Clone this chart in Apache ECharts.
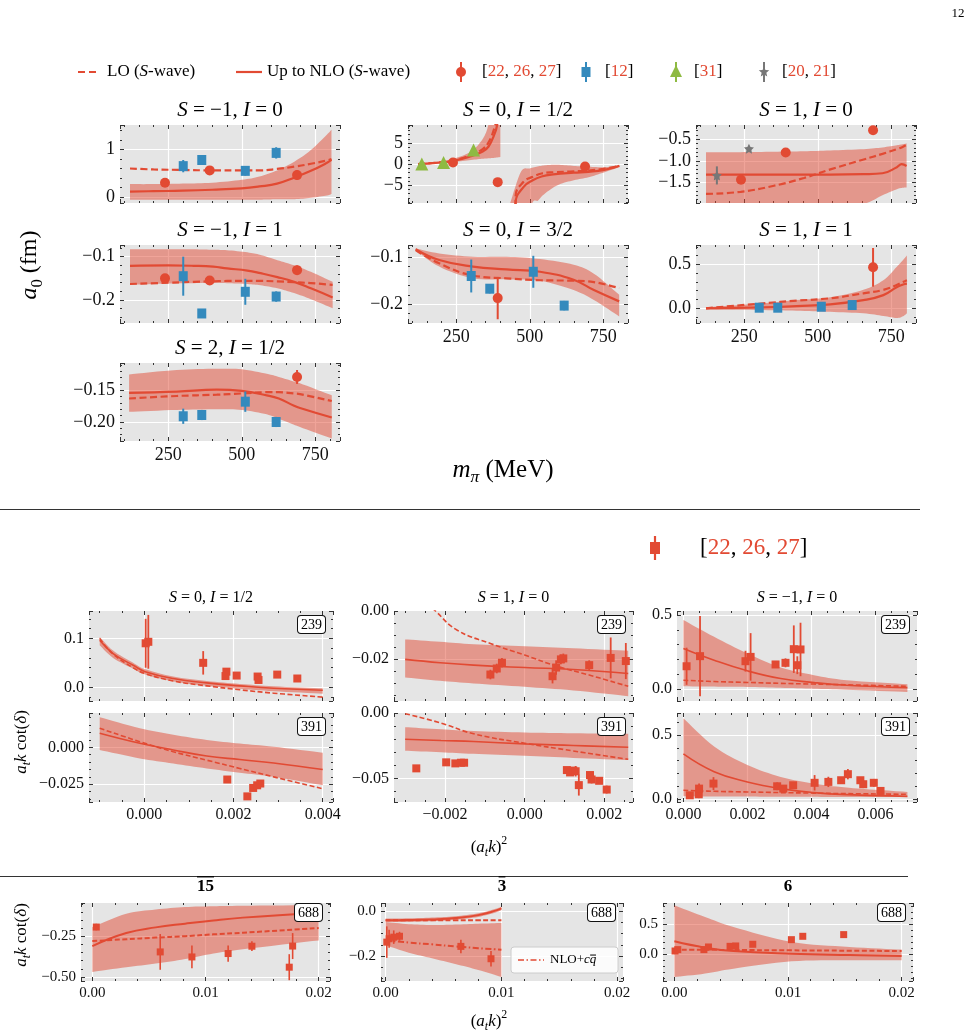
<!DOCTYPE html>
<html>
<head>
<meta charset="utf-8">
<script src="https://cdn.jsdelivr.net/npm/echarts@6/dist/echarts.min.js"></script>
<style>
  html, body { margin: 0; padding: 0; background: #fff; }
  #chart { width: 978px; height: 1035px; }
</style>
</head>
<body>
<div id="chart"></div>
<script>
const SERIF = '"Liberation Serif", "Times New Roman", Times, serif';
const RED = '#E24A33', BLUE = '#348ABD', GREEN = '#8EBA42', GRAY = '#777777';
const BAND = 'rgba(226, 74, 51, 0.5)';

// ---------- top figure: a0 (fm) vs m_pi (MeV) ----------
const mRed = [239, 391, 688];
const mBlue = [301, 364, 512, 617];
const mGreen = [133, 207, 309];
const mGray = [157, 266];
const m391 = [391];
const m688 = [688];

// S=-1, I=0
const mA = [120, 200, 300, 400, 500, 560, 620, 680, 735, 790, 805];
const aNLO = [0.11, 0.12, 0.13, 0.15, 0.18, 0.22, 0.28, 0.41, 0.55, 0.72, 0.78];
const aLO = [0.60, 0.58, 0.57, 0.56, 0.56, 0.56, 0.59, 0.64, 0.70, 0.77, 0.80];
const aBandLo = [-0.06, -0.06, -0.06, -0.06, -0.06, -0.06, -0.05, -0.05, -0.02, 0.03, 0.06];
const aBandHi = [0.27, 0.27, 0.28, 0.30, 0.36, 0.43, 0.56, 0.75, 0.99, 1.32, 1.42];
const aRedY = [0.30, 0.56, 0.46], aRedErr = [0.03, 0.03, 0.10];
const aBlueY = [0.65, 0.78, 0.55, 0.93], aBlueErr = [0.13, 0.07, 0.10, 0.12];

// S=0, I=1/2 (two branches around the pole)
const bmL = [120, 180, 241, 300, 340, 360, 378, 389, 398];
const bNLOL = [0.0, 0.3, 0.8, 1.9, 3.0, 4.2, 6.8, 9.3, 16];
const bLOL = [0.05, 0.35, 0.95, 2.2, 3.6, 5.2, 8.2, 11.5, 20];
const bmBL = [120, 180, 241, 300, 340, 360, 378, 389, 400];
const bBandLoL = [-0.1, 0.1, 0.55, 1.0, 1.3, 1.4, 1.5, 1.6, 1.7];
const bBandHiL = [0.2, 0.55, 1.3, 3.0, 6.0, 9.5, 16, 25, 30];
const bmR = [446, 452, 480, 510, 540, 580, 650, 700, 750, 805];
const bNLOR = [-40, -9.1, -5.3, -3.8, -2.9, -2.4, -2.0, -1.8, -1.4, -0.4];
const bLOR = [-40, -7.5, -4.1, -3.0, -2.2, -1.9, -1.7, -1.5, -1.1, -0.4];
const bmBR = [434, 470, 500, 530, 560, 600, 650, 700, 750, 800];
const bBandLoR = [-40, -40, -12, -8.5, -6.5, -4.8, -3.8, -3.1, -2.0, -0.8];
const bBandHiR = [-9.1, -1.8, -1.0, -0.5, -0.2, -0.15, -0.4, -0.6, -0.7, -0.4];
const bGreenY = [0.07, 0.4, 3.4], bGreenErr = [0.25, 0.25, 0.5];
const bRedY = [0.4, -4.25, -0.55], bRedErr = [0.3, 0.4, 0.4];

// S=1, I=0
const cm = [120, 238, 351, 453, 543, 656, 720, 769, 785, 802];
const cNLO = [-1.32, -1.32, -1.32, -1.32, -1.32, -1.31, -1.29, -1.15, -1.08, -1.12];
const cLO = [-1.77, -1.72, -1.58, -1.40, -1.20, -0.97, -0.84, -0.73, -0.69, -0.63];
const cBandLo = [-2.1, -2.1, -2.1, -2.1, -2.1, -2.0, -1.8, -1.66, -1.63, -1.62];
const cBandHi = [-0.80, -0.80, -0.79, -0.78, -0.76, -0.73, -0.69, -0.64, -0.62, -0.60];
const cRedY = [-1.44, -0.81, -0.29], cRedErr = [0.03, 0.03, 0.03];
const cGrayY = [-1.34, -0.72], cGrayErr = [0.21, 0.02];

// S=-1, I=1
const dm = [120, 250, 337, 403, 450, 519, 564, 621, 678, 735, 809];
const dNLO = [-0.121, -0.120, -0.121, -0.123, -0.127, -0.132, -0.138, -0.147, -0.158, -0.173, -0.194];
const dLO = [-0.163, -0.160, -0.158, -0.157, -0.156, -0.156, -0.156, -0.157, -0.159, -0.161, -0.165];
const dBandHi = [-0.083, -0.083, -0.083, -0.084, -0.085, -0.090, -0.096, -0.108, -0.120, -0.135, -0.158];
const dBandLo = [-0.165, -0.162, -0.161, -0.160, -0.161, -0.163, -0.166, -0.173, -0.184, -0.198, -0.219];
const dRedY = [-0.150, -0.155, -0.131], dRedErr = [0.004, 0.004, 0.011];
const dBlueY = [-0.145, -0.231, -0.181, -0.192], dBlueErr = [0.045, 0.010, 0.030, 0.012];

// S=0, I=3/2
const em = [112, 192, 307, 421, 535, 649, 718, 804];
const eNLO = [-0.083, -0.106, -0.120, -0.126, -0.131, -0.148, -0.170, -0.194];
const eLO = [-0.085, -0.113, -0.139, -0.145, -0.149, -0.150, -0.153, -0.166];
const eBandHi = [-0.081, -0.092, -0.099, -0.099, -0.104, -0.116, -0.135, -0.180];
const eBandLo = [-0.085, -0.120, -0.145, -0.147, -0.150, -0.170, -0.191, -0.226];
const eRedY = [-0.187], eRedErr = [0.045];
const eBlueY = [-0.140, -0.167, -0.131, -0.203], eBlueErr = [0.035, 0.010, 0.034, 0.010];

// S=1, I=1
const fm = [120, 315, 428, 542, 655, 723, 768, 790, 803];
const fNLO = [0.0, 0.01, 0.026, 0.045, 0.093, 0.15, 0.24, 0.27, 0.28];
const fLO = [0.0, 0.057, 0.087, 0.114, 0.17, 0.21, 0.265, 0.30, 0.32];
const fBandHi = [0.011, 0.057, 0.095, 0.125, 0.21, 0.32, 0.47, 0.55, 0.60];
const fBandLo = [-0.011, -0.02, -0.027, -0.04, -0.057, -0.087, -0.11, -0.09, -0.057];
const fRedY = [0.466], fRedErr = [0.22];
const fBlueY = [0.007, 0.007, 0.018, 0.037], fBlueErr = [0.01, 0.01, 0.01, 0.01];

// S=2, I=1/2
const gm = [117, 279, 415, 500, 585, 626, 676, 698, 806];
const gNLO = [-0.154, -0.152, -0.149, -0.151, -0.158, -0.163, -0.174, -0.178, -0.193];
const gLO = [-0.163, -0.159, -0.157, -0.155, -0.153, -0.153, -0.155, -0.156, -0.167];
const gBandHi = [-0.125, -0.118, -0.116, -0.117, -0.124, -0.129, -0.136, -0.139, -0.158];
const gBandLo = [-0.184, -0.181, -0.180, -0.181, -0.188, -0.195, -0.204, -0.208, -0.226];
const gRedY = [-0.129], gRedErr = [0.011];
const gBlueY = [-0.191, -0.189, -0.168, -0.200], gBlueErr = [0.012, 0.008, 0.016, 0.008];

// ---------- middle figure: a_t k cot(delta) vs (a_t k)^2 ----------
// S=0, I=1/2, m=239
const m1X = [0.00003, 0.00009, 0.00132, 0.00182, 0.00184, 0.00207, 0.00254, 0.00256, 0.00298, 0.00343];
const m1Y = [0.090, 0.093, 0.050, 0.023, 0.032, 0.024, 0.022, 0.015, 0.026, 0.018];
const m1Err = [0.050, 0.055, 0.024, 0.006, 0.006, 0.005, 0.006, 0.006, 0.005, 0.004];
const m1cx = [-0.001, -0.0007, -0.00025, 0.00002, 0.00065, 0.0014, 0.00214, 0.0029, 0.004];
const m1NLO = [0.096, 0.069, 0.045, 0.032, 0.018, 0.009, 0.003, -0.002, -0.006];
const m1LO = [0.100, 0.068, 0.040, 0.028, 0.013, 0.003, -0.005, -0.012, -0.020];
const m1BandHi = [0.103, 0.075, 0.050, 0.037, 0.022, 0.013, 0.007, 0.002, -0.002];
const m1BandLo = [0.086, 0.060, 0.038, 0.026, 0.012, 0.003, -0.003, -0.008, -0.013];
// S=0, I=1/2, m=391
const m4X = [0.00186, 0.00231, 0.00244, 0.00253, 0.0026];
const m4Y = [-0.0218, -0.0332, -0.0275, -0.0257, -0.0245];
const m4Err = [0.0015, 0.0015, 0.0015, 0.0015, 0.0012];
const m4cx = [-0.001, -0.0001, 0.00065, 0.0014, 0.00214, 0.0029, 0.004];
const m4NLO = [0.0095, 0.0027, -0.0018, -0.0059, -0.0083, -0.0106, -0.015];
const m4LO = [0.0129, 0.0038, -0.0030, -0.0087, -0.0143, -0.0200, -0.0280];
const m4BandHi = [0.0204, 0.0129, 0.0085, 0.0050, 0.0025, 0.0004, -0.0037];
const m4BandLo = [-0.0018, -0.0075, -0.0110, -0.0143, -0.0172, -0.0200, -0.0257];
// S=1, I=0, m=239
const m2X = [-0.00086, -0.0007, -0.00057, 0.0007, 0.00079, 0.00091, 0.00097, 0.00162, 0.00216, 0.00254];
const m2Y = [-0.0264, -0.0239, -0.0215, -0.0271, -0.0235, -0.0201, -0.0197, -0.0225, -0.0195, -0.0208];
const m2Err = [0.002, 0.002, 0.002, 0.003, 0.003, 0.002, 0.002, 0.002, 0.0085, 0.0075];
const m2cx = [-0.003, -0.00212, -0.00128, 0, 0.00122, 0.0026];
const m2NLO = [-0.0201, -0.0215, -0.0225, -0.0235, -0.0243, -0.0260];
const m2BandHi = [-0.0118, -0.0128, -0.0138, -0.0146, -0.0155, -0.0165];
const m2BandLo = [-0.0276, -0.0290, -0.0301, -0.0315, -0.0330, -0.0354];
const m2lx = [-0.003, -0.00224, -0.0017, -0.00086, 0, 0.0008, 0.00164, 0.0026];
const m2LO = [0.012, 0.0, -0.0079, -0.0135, -0.0183, -0.0229, -0.0267, -0.0313];
// S=1, I=0, m=391
const m5X = [-0.00272, -0.00197, -0.00174, -0.0016, -0.00152, 0.00106, 0.00114, 0.00122, 0.00128, 0.00136, 0.00164, 0.00168, 0.00187, 0.00206];
const m5Y = [-0.0423, -0.0377, -0.0385, -0.0380, -0.0380, -0.0436, -0.0454, -0.0440, -0.0445, -0.0551, -0.0474, -0.0508, -0.0518, -0.0585];
const m5Err = [0.0015, 0.0015, 0.0015, 0.0015, 0.0015, 0.002, 0.002, 0.0025, 0.004, 0.008, 0.002, 0.003, 0.002, 0.003];
const m5cx = [-0.003, -0.0021, -0.00128, 0, 0.00122, 0.0026];
const m5NLO = [-0.0200, -0.0210, -0.0218, -0.0236, -0.0248, -0.0262];
const m5LO = [-0.0005, -0.0077, -0.0159, -0.0231, -0.0290, -0.0354];
const m5BandHi = [-0.0108, -0.0125, -0.0138, -0.0149, -0.0155, -0.0159];
const m5BandLo = [-0.0288, -0.0300, -0.0312, -0.0326, -0.0343, -0.0360];
// S=-1, I=0, m=239 and m=391
const m3cx = [0, 0.00096, 0.002, 0.00304, 0.00408, 0.0051, 0.007];
const m3X = [0.0001, 0.00052, 0.00194, 0.0021, 0.00288, 0.00319, 0.00345, 0.00356, 0.00366];
const m3Y = [0.155, 0.223, 0.189, 0.218, 0.167, 0.178, 0.270, 0.162, 0.268];
const m3Err = [0.125, 0.27, 0.07, 0.16, 0.02, 0.03, 0.16, 0.06, 0.18];
const m3NLO = [0.275, 0.196, 0.124, 0.072, 0.045, 0.027, 0.011];
const m3LO = [0.061, 0.052, 0.046, 0.040, 0.035, 0.030, 0.020];
const m3BandHi = [0.466, 0.353, 0.241, 0.147, 0.095, 0.061, 0.034];
const m3BandLo = [0.020, 0.018, 0.016, 0.010, 0.004, -0.003, -0.018];
const m6X = [0.0002, 0.00048, 0.00049, 0.00094, 0.00293, 0.00312, 0.00343, 0.0041, 0.00453, 0.00493, 0.00514, 0.00553, 0.00562, 0.00595, 0.00616];
const m6Y = [0.031, 0.039, 0.083, 0.122, 0.101, 0.083, 0.109, 0.128, 0.135, 0.148, 0.195, 0.148, 0.117, 0.128, 0.065];
const m6Err = [0.02, 0.03, 0.04, 0.05, 0.03, 0.02, 0.02, 0.06, 0.04, 0.02, 0.04, 0.02, 0.03, 0.03, 0.03];
const m6NLO = [0.352, 0.214, 0.135, 0.083, 0.052, 0.036, 0.023];
const m6LO = [0.070, 0.062, 0.057, 0.052, 0.048, 0.044, 0.039];
const m6BandHi = [0.63, 0.41, 0.266, 0.174, 0.122, 0.091, 0.057];
const m6BandLo = [0.023, 0.022, 0.021, 0.020, 0.019, 0.018, 0.018];

// ---------- bottom figure: irreps at m=688 ----------
const b1X = [0.00035, 0.006, 0.0088, 0.012, 0.0141, 0.0174, 0.0177];
const b1Y = [-0.193, -0.346, -0.377, -0.356, -0.311, -0.44, -0.31];
const b1Err = [0.02, 0.11, 0.07, 0.05, 0.03, 0.08, 0.08];
const b1cx = [0, 0.003, 0.0056, 0.0082, 0.0107, 0.0133, 0.02];
const b1NLO = [-0.31, -0.23, -0.195, -0.172, -0.152, -0.135, -0.105];
const b1LO = [-0.279, -0.268, -0.258, -0.249, -0.238, -0.228, -0.199];
const b1BandHi = [-0.193, -0.111, -0.085, -0.07, -0.065, -0.062, -0.058];
const b1BandLo = [-0.469, -0.44, -0.418, -0.39, -0.356, -0.33, -0.275];

const b2X = [0.0001, 0.0003, 0.0007, 0.0012, 0.0065, 0.0091];
const b2Y = [-0.138, -0.123, -0.116, -0.112, -0.157, -0.212];
const b2Err = [0.07, 0.04, 0.03, 0.02, 0.03, 0.035];
const b2cx = [0, 0.002, 0.004, 0.006, 0.008, 0.0095, 0.01];
const b2NLO = [-0.041, -0.040, -0.037, -0.031, -0.018, 0.002, 0.012];
const b2LO = [-0.041, -0.041, -0.041, -0.041, -0.041, -0.041, -0.041];
const b2ThinHi = [-0.033, -0.032, -0.029, -0.023, -0.010, 0.010, 0.020];
const b2ThinLo = [-0.049, -0.048, -0.045, -0.039, -0.026, -0.006, 0.004];
const b2qx = [0, 0.002, 0.004, 0.006, 0.008, 0.01];
const b2CQ = [-0.130, -0.140, -0.148, -0.157, -0.165, -0.172];
const b2BandHi = [-0.049, -0.058, -0.062, -0.060, -0.056, -0.053];
const b2BandLo = [-0.152, -0.185, -0.210, -0.235, -0.262, -0.293];

const b3X = [0.00006, 0.0003, 0.0026, 0.003, 0.0049, 0.0054, 0.0069, 0.0103, 0.0113, 0.0149];
const b3Y = [0.055, 0.078, 0.078, 0.122, 0.133, 0.139, 0.167, 0.244, 0.30, 0.328];
const b3Err = [0.03, 0.03, 0.03, 0.04, 0.03, 0.03, 0.03, 0.03, 0.03, 0.03];
const b3cx = [0, 0.0027, 0.0052, 0.0103, 0.0154, 0.02];
const b3NLO = [0.217, 0.111, 0.055, 0.011, -0.012, -0.028];
const b3LO = [0.078, 0.075, 0.072, 0.066, 0.060, 0.055];
const b3BandHi = [0.817, 0.622, 0.456, 0.206, 0.122, 0.078];
const b3BandLo = [-0.378, -0.322, -0.239, -0.117, -0.10, -0.10];

// ---------- markers ----------
const STAR = 'path://M0,-10L2.94,-4.05L9.51,-3.09L4.76,1.55L5.88,8.09L0,5L-5.88,8.09L-4.76,1.55L-9.51,-3.09L-2.94,-4.05Z';
const MARK = {
  circle: { symbol: 'circle', size: 10, color: RED, ew: 2 },
  square: { symbol: 'rect', size: [9, 10], color: BLUE, ew: 2 },
  triangle: { symbol: 'triangle', size: 13, color: GREEN, ew: 2 },
  star: { symbol: STAR, size: 10, color: GRAY, ew: 2 },
  redsq: { symbol: 'rect', size: 8, color: RED, ew: 1.8 },
  redsq2: { symbol: 'rect', size: 7, color: RED, ew: 1.6 }
};

// ---------- panels ----------
const TOPX = [86, 834, 250, 5, 0];
const panels = [
  { box: [120, 125, 220, 78], xr: TOPX, yr: [-0.13, 1.52, 1, 5, 0], xLabels: false, font: 18, lw: 2.2, dash: [7, 3.5],
    title: ['−1', '0'], tfont: 21,
    bands: [[mA, aBandLo, aBandHi]], nlo: [[mA, aNLO]], lo: [[mA, aLO]],
    pts: [[mRed, aRedY, aRedErr, 'circle'], [mBlue, aBlueY, aBlueErr, 'square']] },
  { box: [408, 125, 220, 78], xr: TOPX, yr: [-9.2, 9.3, 5, 5, 0], xLabels: false, font: 18, lw: 2.2, dash: [7, 3.5],
    title: ['0', '1/2'], tfont: 21,
    bands: [[bmBL, bBandLoL, bBandHiL], [bmBR, bBandLoR, bBandHiR]],
    nlo: [[bmL, bNLOL], [bmR, bNLOR]], lo: [[bmL, bLOL], [bmR, bLOR]],
    pts: [[mGreen, bGreenY, bGreenErr, 'triangle'], [mRed, bRedY, bRedErr, 'circle']] },
  { box: [696, 125, 220, 78], xr: TOPX, yr: [-1.98, -0.17, 0.5, 5, 1], xLabels: false, font: 18, lw: 2.2, dash: [7, 3.5],
    title: ['1', '0'], tfont: 21,
    bands: [[cm, cBandLo, cBandHi]], nlo: [[cm, cNLO]], lo: [[cm, cLO]],
    pts: [[mGray, cGrayY, cGrayErr, 'star'], [mRed, cRedY, cRedErr, 'circle']] },
  { box: [120, 245, 220, 78], xr: TOPX, yr: [-0.253, -0.073, 0.1, 5, 1], xLabels: false, font: 18, lw: 2.2, dash: [7, 3.5],
    title: ['−1', '1'], tfont: 21,
    bands: [[dm, dBandLo, dBandHi]], nlo: [[dm, dNLO]], lo: [[dm, dLO]],
    pts: [[mRed, dRedY, dRedErr, 'circle'], [mBlue, dBlueY, dBlueErr, 'square']] },
  { box: [408, 245, 220, 78], xr: TOPX, yr: [-0.24, -0.074, 0.1, 5, 1], xLabels: true, font: 18, lw: 2.2, dash: [7, 3.5],
    title: ['0', '3/2'], tfont: 21,
    bands: [[em, eBandLo, eBandHi]], nlo: [[em, eNLO]], lo: [[em, eLO]],
    pts: [[mBlue, eBlueY, eBlueErr, 'square'], [m391, eRedY, eRedErr, 'circle']] },
  { box: [696, 245, 220, 78], xr: TOPX, yr: [-0.167, 0.72, 0.5, 5, 1], xLabels: true, font: 18, lw: 2.2, dash: [7, 3.5],
    title: ['1', '1'], tfont: 21,
    bands: [[fm, fBandLo, fBandHi]], nlo: [[fm, fNLO]], lo: [[fm, fLO]],
    pts: [[mBlue, fBlueY, fBlueErr, 'square'], [m688, fRedY, fRedErr, 'circle']] },
  { box: [120, 363, 220, 78], xr: TOPX, yr: [-0.230, -0.107, 0.05, 5, 2], xLabels: true, font: 18, lw: 2.2, dash: [7, 3.5],
    title: ['2', '1/2'], tfont: 21,
    bands: [[gm, gBandLo, gBandHi]], nlo: [[gm, gNLO]], lo: [[gm, gLO]],
    pts: [[mBlue, gBlueY, gBlueErr, 'square'], [m688, gRedY, gRedErr, 'circle']] },

  // middle
  { box: [89, 611, 244, 90], xr: [-0.00124, 0.00423, 0.002, 4, 3], yr: [-0.028, 0.156, 0.1, 5, 1], xLabels: false, font: 16, lw: 1.6, dash: [5, 2.5],
    title: ['0', '1/2'], tfont: 16, tag: '239',
    bands: [[m1cx, m1BandLo, m1BandHi]], nlo: [[m1cx, m1NLO]], lo: [[m1cx, m1LO]], pts: [[m1X, m1Y, m1Err, 'redsq']] },
  { box: [394, 611, 239, 90], xr: [-0.00328, 0.00272, 0.002, 4, 3], yr: [-0.0374, 0, 0.02, 4, 2], xLabels: false, font: 16, lw: 1.6, dash: [5, 2.5],
    title: ['1', '0'], tfont: 16, tag: '239',
    bands: [[m2cx, m2BandLo, m2BandHi]], nlo: [[m2cx, m2NLO]], lo: [[m2lx, m2LO]], pts: [[m2X, m2Y, m2Err, 'redsq']] },
  { box: [677, 611, 240, 90], xr: [-0.0002, 0.0073, 0.002, 4, 3], yr: [-0.079, 0.527, 0.5, 5, 1], xLabels: false, font: 16, lw: 1.6, dash: [5, 2.5],
    title: ['−1', '0'], tfont: 16, tag: '239',
    bands: [[m3cx, m3BandLo, m3BandHi]], nlo: [[m3cx, m3NLO]], lo: [[m3cx, m3LO]], pts: [[m3X, m3Y, m3Err, 'redsq']] },
  { box: [89, 713, 244, 89], xr: [-0.00124, 0.00423, 0.002, 4, 3], yr: [-0.037, 0.0232, 0.025, 5, 3], xLabels: true, font: 16, lw: 1.6, dash: [5, 2.5],
    tag: '391',
    bands: [[m4cx, m4BandLo, m4BandHi]], nlo: [[m4cx, m4NLO]], lo: [[m4cx, m4LO]], pts: [[m4X, m4Y, m4Err, 'redsq']] },
  { box: [394, 713, 239, 89], xr: [-0.00328, 0.00272, 0.002, 4, 3], yr: [-0.068, 0, 0.05, 5, 2], xLabels: true, font: 16, lw: 1.6, dash: [5, 2.5],
    tag: '391',
    bands: [[m5cx, m5BandLo, m5BandHi]], nlo: [[m5cx, m5NLO]], lo: [[m5cx, m5LO]], pts: [[m5X, m5Y, m5Err, 'redsq']] },
  { box: [677, 713, 240, 89], xr: [-0.0002, 0.0073, 0.002, 4, 3], yr: [-0.021, 0.67, 0.5, 5, 1], xLabels: true, font: 16, lw: 1.6, dash: [5, 2.5],
    tag: '391',
    bands: [[m3cx, m6BandLo, m6BandHi]], nlo: [[m3cx, m6NLO]], lo: [[m3cx, m6LO]], pts: [[m6X, m6Y, m6Err, 'redsq']] },

  // bottom
  { box: [81, 903, 249, 78], xr: [-0.001, 0.021, 0.01, 5, 2], yr: [-0.525, -0.045, 0.25, 5, 2], xLabels: true, font: 15, lw: 2, dash: [5, 2.5],
    tag: '688', tagDy: 1,
    bands: [[b1cx, b1BandLo, b1BandHi]], nlo: [[b1cx, b1NLO]], lo: [[b1cx, b1LO]], pts: [[b1X, b1Y, b1Err, 'redsq2']] },
  { box: [381, 903, 242, 78], xr: [-0.0004, 0.0205, 0.01, 5, 2], yr: [-0.311, 0.036, 0.2, 4, 1], xLabels: true, font: 15, lw: 2, dash: [5, 2.5],
    tag: '688', tagDy: 1,
    bands: [[b2qx, b2BandLo, b2BandHi], [b2cx, b2ThinLo, b2ThinHi]], nlo: [[b2cx, b2NLO]], lo: [[b2cx, b2LO]], cq: [[b2qx, b2CQ]],
    pts: [[b2X, b2Y, b2Err, 'redsq2']] },
  { box: [663, 903, 250, 78], xr: [-0.001, 0.021, 0.01, 5, 2], yr: [-0.445, 0.855, 0.5, 5, 1], xLabels: true, font: 15, lw: 2, dash: [5, 2.5],
    tag: '688', tagDy: 1,
    bands: [[b3cx, b3BandLo, b3BandHi]], nlo: [[b3cx, b3NLO]], lo: [[b3cx, b3LO]], pts: [[b3X, b3Y, b3Err, 'redsq2']] }
];

// ---------- helpers ----------
const fmtTick = (v, dec) => {
  if (Math.abs(v) < 1e-12) v = 0;
  return v.toFixed(dec).replace('-', '\u2212');
};

function makeAxis(gridIndex, r, position, labels, font) {
  const [min, max, step, minor, dec] = r;
  const main = position === 'bottom' || position === 'left';
  const onTick = v => Math.abs(v / step - Math.round(v / step)) < 1e-6;
  return {
    type: 'value', gridIndex, position, min, max, minInterval: step, maxInterval: step,
    axisLine: { show: false, onZero: false },
    axisTick: { show: true, inside: true, length: 4, lineStyle: { color: '#333', width: 1 } },
    minorTick: { show: true, splitNumber: minor, length: 2, lineStyle: { color: '#333', width: 1 } },
    splitLine: { show: main, showMinLine: false, showMaxLine: false, lineStyle: { color: '#ffffff', width: 1.2 } },
    minorSplitLine: { show: false },
    axisLabel: {
      show: labels, showMinLabel: onTick(min), showMaxLabel: onTick(max), margin: 5,
      color: '#111', fontFamily: SERIF, fontSize: font, formatter: v => fmtTick(v, dec)
    }
  };
}

function spline(pts, steps = 8) {
  if (pts.length < 3) return pts;
  const out = [];
  for (let i = 0; i < pts.length - 1; i++) {
    const p0 = pts[Math.max(i - 1, 0)], p1 = pts[i], p2 = pts[i + 1], p3 = pts[Math.min(i + 2, pts.length - 1)];
    for (let s = 0; s < steps; s++) {
      const t = s / steps, t2 = t * t, t3 = t2 * t;
      out.push([0, 1].map(k => 0.5 * (2 * p1[k] + (p2[k] - p0[k]) * t +
        (2 * p0[k] - 5 * p1[k] + 4 * p2[k] - p3[k]) * t2 + (3 * p1[k] - p0[k] - 3 * p2[k] + p3[k]) * t3)));
    }
  }
  out.push(pts[pts.length - 1]);
  return out;
}

function bandSeries(ax, xs, lo, hi) {
  return Object.assign({
    type: 'custom', clip: true, silent: true, z: 1,
    data: [[xs[0], lo[0]]],
    renderItem: (params, api) => {
      const top = spline(xs.map((x, k) => api.coord([x, hi[k]])));
      const bot = spline(xs.map((x, k) => api.coord([x, lo[k]]))).reverse();
      return { type: 'polygon', shape: { points: top.concat(bot) }, style: { fill: BAND } };
    }
  }, ax);
}

function lineSeries(ax, xs, ys, width, type) {
  return Object.assign({
    type: 'line', silent: true, z: 3, symbol: 'none', showSymbol: false, smooth: 0.45,
    data: xs.map((x, k) => [x, ys[k]]),
    lineStyle: { color: RED, width, type }
  }, ax);
}

function errSeries(ax, xs, ys, err, color, width) {
  return Object.assign({
    type: 'custom', clip: true, silent: true, z: 4,
    data: xs.map((x, k) => [x, ys[k], err[k]]),
    renderItem: (params, api) => {
      const a = api.coord([api.value(0), api.value(1) - api.value(2)]);
      const b = api.coord([api.value(0), api.value(1) + api.value(2)]);
      return { type: 'line', shape: { x1: a[0], y1: a[1], x2: b[0], y2: b[1] }, style: { stroke: color, lineWidth: width } };
    }
  }, ax);
}

function markSeries(ax, xs, ys, m) {
  return Object.assign({
    type: 'scatter', silent: true, z: 5, symbol: m.symbol, symbolSize: m.size,
    data: xs.map((x, k) => [x, ys[k]]),
    itemStyle: { color: m.color, opacity: 1 }
  }, ax);
}

const meter = document.createElement('canvas').getContext('2d');
function mtext(tokens, x, y, size, opt = {}) {
  let w = 0;
  const kids = [], overs = [];
  const z = opt.z || 110;
  tokens.forEach(tok => {
    const t = typeof tok === 'string' ? { t: tok } : tok;
    const fs = size * (t.s || 1);
    const fontStyle = t.i ? 'italic' : 'normal', fontWeight = t.b ? 'bold' : 'normal';
    meter.font = `${fontStyle} ${fontWeight} ${fs}px ${SERIF}`;
    const tw = meter.measureText(t.t).width;
    kids.push({ type: 'text', z, x: w, y: (t.dy || 0) * size,
      style: { text: t.t, fontSize: fs, fontFamily: SERIF, fontStyle, fontWeight, fill: t.c || '#000', align: 'left', verticalAlign: 'middle' } });
    if (t.over) overs.push([w, tw, t.over, t.oy || 0.6]);
    w += tw;
  });
  const shift = opt.align === 'left' ? 0 : -w / 2;
  kids.forEach(k => { k.x += shift; });
  overs.forEach(([x0, tw, f, oy]) => kids.push({ type: 'line', z,
    shape: { x1: x0 + shift + tw * (1 - f) / 2, y1: -oy * size, x2: x0 + shift + tw * (1 + f) / 2, y2: -oy * size },
    style: { stroke: '#000', lineWidth: size < 15 ? 1 : 1.3 } }));
  return { type: 'group', x, y, rotation: opt.rot || 0, z, children: kids };
}

function starPoints(cx, cy, r) {
  const pts = [];
  for (let k = 0; k < 10; k++) {
    const a = -Math.PI / 2 + k * Math.PI / 5, rr = k % 2 ? r * 0.45 : r;
    pts.push([cx + rr * Math.cos(a), cy + rr * Math.sin(a)]);
  }
  return pts;
}

const titleTokens = (s, i) => [{ t: 'S', i: 1 }, ' = ' + s + ', ', { t: 'I', i: 1 }, ' = ' + i];
const refTokens = nums => {
  const out = ['['];
  nums.forEach((n, k) => { if (k) out.push(', '); out.push({ t: n, c: RED }); });
  out.push(']');
  return out;
};

// ---------- option ----------
const option = { animation: false, backgroundColor: '#ffffff', grid: [], xAxis: [], yAxis: [], series: [] };
const gfx = [];

panels.forEach((p, i) => {
  const [left, top, width, height] = p.box;
  option.grid.push({ left, top, width, height, show: true, backgroundColor: '#e5e5e5', borderWidth: 0, borderColor: 'transparent', outerBoundsMode: 'none' });
  option.xAxis.push(makeAxis(i, p.xr, 'bottom', p.xLabels, p.font), makeAxis(i, p.xr, 'top', false, p.font));
  option.yAxis.push(makeAxis(i, p.yr, 'left', true, p.font), makeAxis(i, p.yr, 'right', false, p.font));
  const ax = { xAxisIndex: 2 * i, yAxisIndex: 2 * i };
  (p.bands || []).forEach(([xs, lo, hi]) => option.series.push(bandSeries(ax, xs, lo, hi)));
  (p.lo || []).forEach(([xs, ys]) => option.series.push(lineSeries(ax, xs, ys, p.lw, p.dash)));
  (p.nlo || []).forEach(([xs, ys]) => option.series.push(lineSeries(ax, xs, ys, p.lw, 'solid')));
  (p.cq || []).forEach(([xs, ys]) => option.series.push(lineSeries(ax, xs, ys, p.lw, [6, 2.5, 1.5, 2.5])));
  (p.pts || []).forEach(([xs, ys, err, kind]) => {
    const m = MARK[kind];
    option.series.push(errSeries(ax, xs, ys, err, m.color, m.ew));
    option.series.push(markSeries(ax, xs, ys, m));
  });
  if (p.title) gfx.push(mtext(titleTokens(p.title[0], p.title[1]), left + width / 2, top - (p.tfont > 18 ? 15 : 13), p.tfont));
  if (p.tag) gfx.push({ type: 'text', x: left + width - 8, y: top + (p.tagDy != null ? p.tagDy : 5), z: 100,
    style: { text: p.tag, fontSize: 14, fontFamily: SERIF, fill: '#000', align: 'right', verticalAlign: 'top',
      backgroundColor: '#ffffff', borderColor: '#111', borderWidth: 1, borderRadius: 3, padding: [2, 3, 1, 3] } });
});

// page number and separators
gfx.push({ type: 'text', x: 958, y: 14, style: { text: '12', fontSize: 13, fontFamily: SERIF, fill: '#000', align: 'center', verticalAlign: 'middle' } });
gfx.push({ type: 'line', shape: { x1: 0, y1: 509.5, x2: 920, y2: 509.5 }, style: { stroke: '#333', lineWidth: 1 } });
gfx.push({ type: 'line', shape: { x1: 0, y1: 876.5, x2: 908, y2: 876.5 }, style: { stroke: '#333', lineWidth: 1 } });

// top legend
const LY = 72;
gfx.push(
  { type: 'line', shape: { x1: 78, y1: LY, x2: 100, y2: LY }, style: { stroke: RED, lineWidth: 2.2, lineDash: [7, 4] } },
  mtext(['LO (', { t: 'S', i: 1 }, '-wave)'], 107, LY, 17, { align: 'left' }),
  { type: 'line', shape: { x1: 236, y1: LY, x2: 262, y2: LY }, style: { stroke: RED, lineWidth: 2.2 } },
  mtext(['Up to NLO (', { t: 'S', i: 1 }, '-wave)'], 267, LY, 17, { align: 'left' }),
  { type: 'line', shape: { x1: 461, y1: 62, x2: 461, y2: 82 }, style: { stroke: RED, lineWidth: 2 } },
  { type: 'circle', shape: { cx: 461, cy: LY, r: 5 }, style: { fill: RED } },
  mtext(refTokens(['22', '26', '27']), 482, LY, 17, { align: 'left' }),
  { type: 'line', shape: { x1: 586, y1: 62, x2: 586, y2: 82 }, style: { stroke: BLUE, lineWidth: 2 } },
  { type: 'rect', shape: { x: 581.5, y: 67, width: 9, height: 10 }, style: { fill: BLUE } },
  mtext(refTokens(['12']), 605, LY, 17, { align: 'left' }),
  { type: 'line', shape: { x1: 676, y1: 62, x2: 676, y2: 82 }, style: { stroke: GREEN, lineWidth: 2 } },
  { type: 'polygon', shape: { points: [[676, 65], [682, 77], [670, 77]] }, style: { fill: GREEN } },
  mtext(refTokens(['31']), 694, LY, 17, { align: 'left' }),
  { type: 'line', shape: { x1: 764, y1: 62, x2: 764, y2: 82 }, style: { stroke: GRAY, lineWidth: 2 } },
  { type: 'polygon', shape: { points: starPoints(764, LY, 5.5) }, style: { fill: GRAY } },
  mtext(refTokens(['20', '21']), 782, LY, 17, { align: 'left' })
);

// middle legend
gfx.push(
  { type: 'line', shape: { x1: 655, y1: 536, x2: 655, y2: 560 }, style: { stroke: RED, lineWidth: 2.2 } },
  { type: 'rect', shape: { x: 650, y: 542, width: 10, height: 12 }, style: { fill: RED } },
  mtext(refTokens(['22', '26', '27']), 700, 548, 23, { align: 'left' })
);

// bottom legend inside the 3-bar panel
gfx.push(
  { type: 'rect', z: 100, shape: { x: 511, y: 947, width: 107, height: 26, r: 3 }, style: { fill: 'rgba(255,255,255,0.85)', stroke: '#cccccc', lineWidth: 1 } },
  { type: 'line', z: 120, shape: { x1: 518, y1: 960, x2: 544, y2: 960 }, style: { stroke: RED, lineWidth: 1.6, lineDash: [6, 2.5, 1.5, 2.5] } },
  mtext(['NLO+', { t: 'c', i: 1 }, { t: 'q', i: 1, over: 0.9, oy: 0.38 }], 550, 960, 13, { align: 'left', z: 120 })
);

// bottom titles
gfx.push(
  mtext([{ t: '15', b: 1, over: 1 }], 205.5, 887, 17),
  mtext([{ t: '3', b: 1, over: 0.8 }], 502, 887, 17),
  mtext([{ t: '6', b: 1 }], 788, 887, 17)
);

// axis titles
gfx.push(
  mtext([{ t: 'a', i: 1 }, { t: '0', s: 0.7, dy: 0.3 }, ' (fm)'], 30, 265, 24, { rot: Math.PI / 2 }),
  mtext([{ t: 'm', i: 1 }, { t: 'π', i: 1, s: 0.7, dy: 0.3 }, ' (MeV)'], 503, 470, 25),
  mtext([{ t: 'a', i: 1 }, { t: 't', i: 1, s: 0.7, dy: 0.3 }, { t: 'k', i: 1 }, ' cot(', { t: 'δ', i: 1 }, ')'], 22, 742, 17, { rot: Math.PI / 2 }),
  mtext(['(', { t: 'a', i: 1 }, { t: 't', i: 1, s: 0.7, dy: 0.3 }, { t: 'k', i: 1 }, ')', { t: '2', s: 0.7, dy: -0.4 }], 489, 848, 17),
  mtext([{ t: 'a', i: 1 }, { t: 't', i: 1, s: 0.7, dy: 0.3 }, { t: 'k', i: 1 }, ' cot(', { t: 'δ', i: 1 }, ')'], 22, 935, 17, { rot: Math.PI / 2 }),
  mtext(['(', { t: 'a', i: 1 }, { t: 't', i: 1, s: 0.7, dy: 0.3 }, { t: 'k', i: 1 }, ')', { t: '2', s: 0.7, dy: -0.4 }], 489, 1022, 17)
);

option.graphic = { elements: gfx };

const chart = echarts.init(document.getElementById('chart'), null, { renderer: 'canvas' });
chart.setOption(option);
</script>
</body>
</html>
